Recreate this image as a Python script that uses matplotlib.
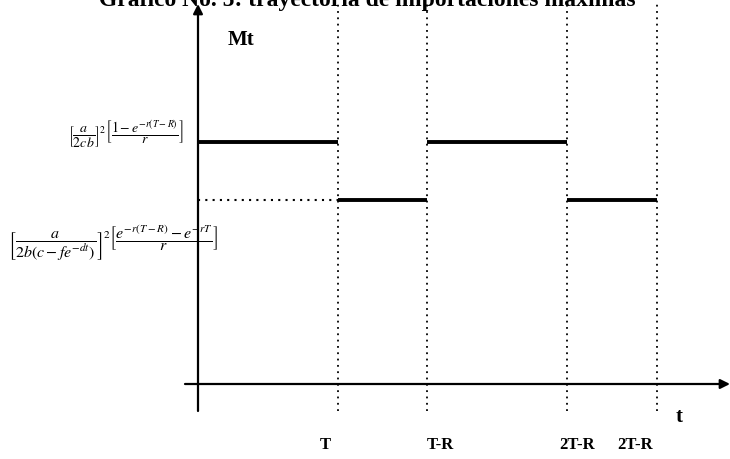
import matplotlib.pyplot as plt

# time marks (in units of T) and the two import levels
t_marks = [1.0, 1.636, 2.636, 3.28]
t_labels = ['T', 'T-R', '2T-R', '2T-R']
label_x = [0.91, 1.73, 2.71, 3.12]
level_high = 1.0
level_low = 0.76

# step segments: (start, end, level)
seg_start = [0.0, 1.0, 1.636, 2.636]
seg_end = [1.0, 1.636, 2.636, 3.28]
seg_level = [level_high, level_low, level_high, level_low]

plt.rcParams['font.family'] = ['Liberation Serif', 'DejaVu Serif']
plt.rcParams['mathtext.fontset'] = 'stix'

fig = plt.figure(figsize=(7.3, 4.6), dpi=100)
ax = fig.add_axes([0, 0, 1, 1])
# 140 px per unit in x, 242 px per unit in y, origin at pixel (198, 385)
ax.set_xlim(-198 / 140, 532 / 140)
ax.set_ylim(-75 / 242, 385 / 242)
ax.axis('off')

y_top = 380 / 242
y_bot = -27 / 242

# axes with arrows
ax.annotate('', xy=(0, y_top), xytext=(0, y_bot),
            arrowprops=dict(arrowstyle='-|>', color='black', lw=1.6,
                            mutation_scale=14, shrinkA=0, shrinkB=0))
ax.annotate('', xy=(532 / 140, 0), xytext=(-13 / 140, 0),
            arrowprops=dict(arrowstyle='-|>', color='black', lw=1.6,
                            mutation_scale=14, shrinkA=0, shrinkB=0))

# dotted guide lines
for tm in t_marks:
    ax.plot([tm, tm], [y_bot, y_top], color='black', lw=1.3, ls=(0, (1, 2.5)))
ax.plot([0, 1.0], [level_low, level_low], color='black', lw=1.5, ls=(0, (1, 2.5)))

# step trajectory
for s, e, lv in zip(seg_start, seg_end, seg_level):
    ax.plot([s, e], [lv, lv], color='black', lw=2.8, solid_capstyle='butt')

for x, lab in zip(label_x, t_labels):
    ax.text(x, -60 / 242, lab, ha='center', va='center', fontsize=12, fontweight='bold')

ax.text(3.44, -32 / 242, 't', ha='center', va='center', fontsize=15, fontweight='bold')
ax.text(0.31, 345 / 242, 'Mt', ha='center', va='center', fontsize=15, fontweight='bold')

ax.text(-72 / 140, 251 / 242,
        r'$\left[\dfrac{a}{2cb}\right]^2\left[\dfrac{1-e^{-r(T-R)}}{r}\right]$',
        ha='center', va='center', fontsize=10)
ax.text(-85 / 140, 142 / 242,
        r'$\left[\dfrac{a}{2b(c-fe^{-dt})}\right]^2\left[\dfrac{e^{-r(T-R)}-e^{-rT}}{r}\right]$',
        ha='center', va='center', fontsize=11.5)

fig.text(367 / 730, 1 - 6 / 460, 'Grafico No. 5: trayectoria de importaciones maximas',
         ha='center', va='baseline', fontsize=17, fontweight='bold')

fig.savefig('out.png', dpi=100)
